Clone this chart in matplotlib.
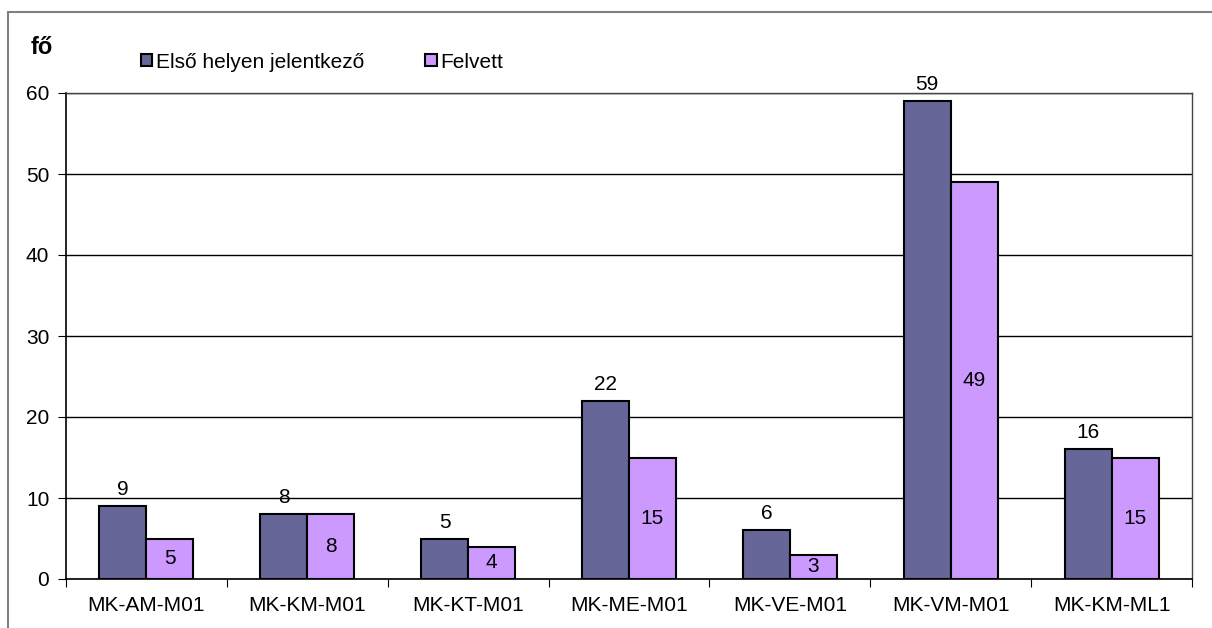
import numpy as np
import matplotlib.pyplot as plt
from matplotlib.patches import Patch, Rectangle

plt.rcParams['font.family'] = ['Liberation Sans', 'DejaVu Sans']

# Szakok és létszámok
szakok = ["MK-AM-M01", "MK-KM-M01", "MK-KT-M01", "MK-ME-M01",
          "MK-VE-M01", "MK-VM-M01", "MK-KM-ML1"]
elso_helyen = [9, 8, 5, 22, 6, 59, 16]
felvett = [5, 8, 4, 15, 3, 49, 15]

c_dark = "#666699"
c_light = "#CC99FF"
fs = 15

fig = plt.figure(figsize=(12.12, 6.28), dpi=100)
ax = fig.add_axes([66 / 1212, 1 - 579 / 628, 1126 / 1212, 486 / 628])

x = np.arange(len(szakok))
w = 0.292

b1 = ax.bar(x - w / 2, elso_helyen, w, color=c_dark, edgecolor="black", linewidth=1.5, zorder=3)
b2 = ax.bar(x + w / 2, felvett, w, color=c_light, edgecolor="black", linewidth=1.5, zorder=3)

for bar, v in zip(b1, elso_helyen):
    ax.annotate(str(v), (bar.get_x() + bar.get_width() / 2, v), xytext=(0, 5),
                textcoords="offset points", ha="center", va="bottom", fontsize=fs)
for bar, v in zip(b2, felvett):
    ax.text(bar.get_x() + bar.get_width() / 2, v / 2, str(v),
            ha="center", va="center", fontsize=fs)

ax.set_xlim(-0.5, len(szakok) - 0.5)
ax.set_ylim(0, 60)
ax.set_yticks(range(0, 61, 10))
ax.yaxis.grid(True, color="black", linewidth=1)
ax.set_axisbelow(True)

# kategóriahatárok jelölése az x tengelyen
ax.set_xticks(np.arange(-0.5, len(szakok), 1.0))
ax.set_xticklabels([])
ax.set_xticks(x, minor=True)
ax.set_xticklabels(szakok, minor=True, fontsize=fs)
ax.tick_params(axis="x", which="major", length=6, color="black")
ax.tick_params(axis="x", which="minor", length=0, pad=12)
ax.tick_params(axis="y", length=6, labelsize=fs, pad=6)

for s in ["top", "right"]:
    ax.spines[s].set_visible(True)
    ax.spines[s].set_linewidth(1)
    ax.spines[s].set_color("#444444")
ax.spines["left"].set_linewidth(1.2)
ax.spines["bottom"].set_linewidth(1.2)

fig.text(42 / 1212, 1 - 47 / 628, "fő", fontsize=17, fontweight="bold", ha="center", va="center")

handles = [Patch(facecolor=c_dark, edgecolor="black", linewidth=1.5),
           Patch(facecolor=c_light, edgecolor="black", linewidth=1.5)]
fig.legend(handles, ["Első helyen jelentkező", "Felvett"], ncol=2, frameon=False,
           loc="center left", bbox_to_anchor=(122 / 1212, 1 - 62 / 628),
           handlelength=0.55, handleheight=0.55, handletextpad=0.2,
           columnspacing=2.9, fontsize=fs)

# keret a diagram körül
fig.add_artist(Rectangle((8 / 1212, -0.05), 1.1, 1 - 12 / 628 + 0.05,
                         transform=fig.transFigure, fill=False,
                         edgecolor="#808080", linewidth=1.5))

fig.savefig("out.png", dpi=100)
